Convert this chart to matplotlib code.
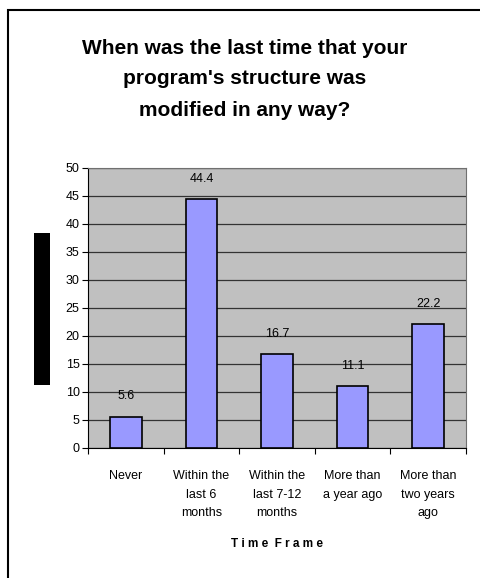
import matplotlib.pyplot as plt
import matplotlib.patches as patches
import numpy as np

categories = ['Never', 'Within the\nlast 6\nmonths', 'Within the\nlast 7-12\nmonths',
              'More than\na year ago', 'More than\ntwo years\nago']
values = [5.6, 44.4, 16.7, 11.1, 22.2]
yticks = [0, 5, 10, 15, 20, 25, 30, 35, 40, 45, 50]

plt.rcParams['font.family'] = ['Liberation Sans', 'DejaVu Sans']

W, H = 480, 578
fig = plt.figure(figsize=(W / 100, H / 100), dpi=100)

# outer chart border
fig.patches.append(patches.Rectangle((8 / W, -0.05), 1.2, (H - 10) / H + 0.05,
                                     transform=fig.transFigure, fill=False,
                                     edgecolor='black', linewidth=1.5))

# black box where the y axis title should be
fig.patches.append(patches.Rectangle((34 / W, 1 - 385 / H), 16 / W, 152 / H,
                                     transform=fig.transFigure, facecolor='black',
                                     edgecolor='none'))

fig.text(245 / W, 1 - 79 / H, "When was the last time that your\nprogram's structure was\nmodified in any way?",
         ha='center', va='center', fontsize=15, fontweight='bold', linespacing=1.8)

ax = fig.add_axes([88 / W, 1 - 448 / H, (466 - 88) / W, (448 - 168) / H])
ax.set_facecolor('#C0C0C0')

x = np.arange(len(categories))
ax.bar(x, values, width=0.42, color='#9999FF', edgecolor='black', linewidth=1.2, zorder=3)
for xi, v in zip(x, values):
    ax.text(xi, v + 3.6, f'{v}', ha='center', va='center', fontsize=9, zorder=4)

ax.set_xlim(-0.5, len(categories) - 0.5)
ax.set_ylim(0, 50)
ax.set_yticks(yticks)
ax.set_yticklabels([str(t) for t in yticks], fontsize=9)
ax.yaxis.grid(True, color='#333333', linewidth=0.9, zorder=0)
ax.set_axisbelow(True)

ax.set_xticks(np.arange(len(categories) + 1) - 0.5)
ax.set_xticklabels([])
ax.set_xticks(x, minor=True)
ax.set_xticklabels(categories, minor=True, fontsize=9, linespacing=1.7)
ax.tick_params(axis='x', which='minor', length=0, pad=16)
ax.tick_params(axis='x', which='major', length=4, direction='out')
ax.tick_params(axis='y', length=4, direction='out', pad=2)

for s in ['top', 'right']:
    ax.spines[s].set_color('#707070')
ax.spines['left'].set_color('black')
ax.spines['bottom'].set_color('black')

ax.set_xlabel('T i m e  F r a m e', fontsize=8.5, fontweight='bold', labelpad=14)

fig.savefig('out.png', dpi=100)
